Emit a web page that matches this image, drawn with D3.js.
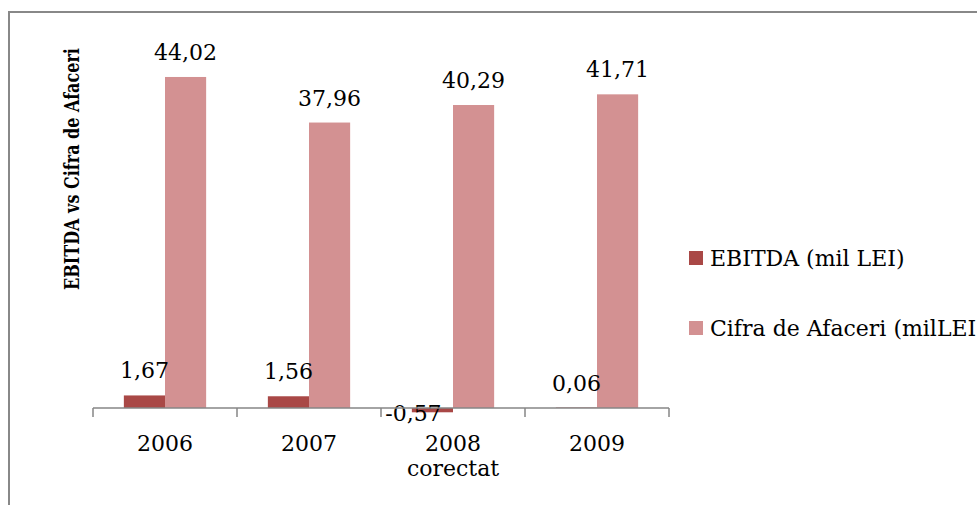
<!DOCTYPE html>
<html>
<head>
<meta charset="utf-8">
<script src="https://cdn.jsdelivr.net/npm/d3@7"></script>
<style>
  html, body { margin: 0; padding: 0; background: #fff; overflow: hidden; }
  svg { display: block; }
  text { font-family: "DejaVu Serif", serif; fill: #000; }
</style>
</head>
<body>
<svg id="chart" width="977" height="505"></svg>
<script>
// ---- data ----
const categories = ["2006", "2007", "2008\ncorectat", "2009"];
const seriesNames = ["EBITDA (mil LEI)", "Cifra de Afaceri (milLEI)"];
const ebitda = [1.67, 1.56, -0.57, 0.06];
const cifra = [44.02, 37.96, 40.29, 41.71];
const valueLabels = [
  ["1,67", "1,56", "-0,57", "0,06"],
  ["44,02", "37,96", "40,29", "41,71"]
];
const axisTitle = "EBITDA vs Cifra de Afaceri";

// ---- styles ----
const colors = ["#A94846", "#D39192"];
const svg = d3.select("#chart");

// chart border (cropped at right and bottom)
svg.append("rect")
  .attr("x", 9).attr("y", 12)
  .attr("width", 1000).attr("height", 520)
  .attr("fill", "none").attr("stroke", "#888").attr("stroke-width", 2);

const x0 = d3.scaleBand().domain(categories).range([93, 669]).paddingInner(0).paddingOuter(0);
const bw = x0.bandwidth() / 3.5;
const x1 = d3.scaleBand().domain([0, 1]).range([0, 2 * bw]);
const y = d3.scaleLinear().domain([0, 50]).range([408, 32]);

const series = [ebitda, cifra];

series.forEach((vals, si) => {
  const g = svg.append("g");
  g.selectAll("rect").data(vals).enter().append("rect")
    .attr("x", (d, i) => x0(categories[i]) + x0.bandwidth() / 2 - bw + x1(si))
    .attr("y", d => y(Math.max(0, d)))
    .attr("width", bw)
    .attr("height", d => Math.abs(y(d) - y(0)))
    .attr("fill", colors[si]);
});

// value labels
series.forEach((vals, si) => {
  svg.append("g").selectAll("text").data(vals).enter().append("text")
    .attr("x", (d, i) => x0(categories[i]) + x0.bandwidth() / 2 - bw + x1(si) + bw / 2 + (d < 0 ? -19 : 0))
    .attr("y", d => d >= 0 ? y(d) - 17 : y(d) + 9)
    .attr("text-anchor", "middle")
    .attr("font-size", 22)
    .text((d, i) => valueLabels[si][i]);
});

// x axis
const axisG = svg.append("g").attr("transform", "translate(0,408)");
const xAxis = d3.axisBottom(x0).tickSize(0).tickFormat("");
axisG.call(xAxis);
axisG.select(".domain").attr("stroke", "#868686").attr("stroke-width", 1.5).attr("d", "M93,0H669");
// boundary ticks
const bounds = categories.map(c => x0(c)).concat([x0.range()[1]]);
axisG.selectAll(".bt").data(bounds).enter().append("line")
  .attr("x1", d => d).attr("x2", d => d)
  .attr("y1", 0).attr("y2", 9)
  .attr("stroke", "#868686").attr("stroke-width", 1.5);

// category labels
svg.append("g").selectAll("text").data(categories).enter().append("text")
  .attr("x", d => x0(d) + x0.bandwidth() / 2)
  .attr("y", 451)
  .attr("text-anchor", "middle")
  .attr("font-size", 22)
  .each(function(d) {
    const lines = d.split("\n");
    d3.select(this).selectAll("tspan").data(lines).enter().append("tspan")
      .attr("x", x0(d) + x0.bandwidth() / 2)
      .attr("dy", (l, i) => i === 0 ? 0 : 25)
      .text(l => l);
  });

// y-axis title (scaled along its length to fit the reference span)
const title = svg.append("text")
  .attr("text-anchor", "middle")
  .attr("font-family", "'Liberation Serif', serif")
  .attr("font-size", 20)
  .attr("font-weight", "bold")
  .text(axisTitle);
const natural = title.node().getComputedTextLength() || 298;
const sx = 242 / natural;
title.attr("transform", `translate(79,169) rotate(-90) scale(${sx},1)`);

// legend
const legY = [258, 328];
const leg = svg.append("g").selectAll("g").data(seriesNames).enter().append("g");
leg.append("rect")
  .attr("x", 689).attr("y", (d, i) => legY[i] - 7)
  .attr("width", 14).attr("height", 14)
  .attr("fill", (d, i) => colors[i]);
leg.append("text")
  .attr("x", 710).attr("y", (d, i) => legY[i])
  .attr("dy", "0.35em")
  .attr("font-size", 22)
  .text(d => d);
</script>
</body>
</html>
